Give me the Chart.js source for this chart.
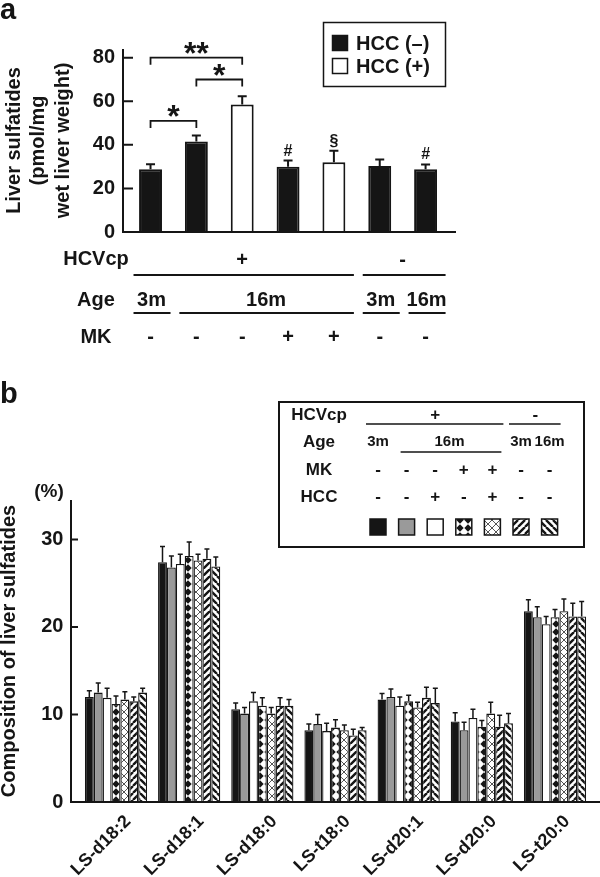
<!DOCTYPE html>
<html>
<head>
<meta charset="utf-8">
<script src="https://cdn.jsdelivr.net/npm/chart.js@4.4.1/dist/chart.umd.min.js"></script>
<style>
  body { margin: 0; background: #fff; }
  #wrap { position: relative; width: 600px; height: 877px; }
  canvas { position: absolute; left: 0; }
  #chartA { top: 0; }
  #chartB { top: 380px; }
</style>
</head>
<body>
<div id="wrap">
  <canvas id="chartA" width="600" height="380"></canvas>
  <canvas id="chartB" width="600" height="497"></canvas>
</div>
<script>
// ---- shared group conditions (same 7 groups in both panels) ----
const hcvSpans = [['+', 0, 4], ['-', 5, 6]];
const ageSpans = [['3m', 0, 0], ['16m', 1, 4], ['3m', 5, 5], ['16m', 6, 6]];
const mkRow = ['-', '-', '-', '+', '+', '-', '-'];
const hccRow = ['-', '-', '+', '-', '+', '-', '-'];

// ---- panel a: liver sulfatides (pmol/mg wet liver weight) ----
const groupsA = ['HCVcp+ 3m', 'HCVcp+ 16m', 'HCVcp+ 16m HCC', 'HCVcp+ 16m MK', 'HCVcp+ 16m MK HCC', 'HCVcp- 3m', 'HCVcp- 16m'];
const sulfatidesA = [28.8, 41.5, 58.5, 30.0, 32.0, 30.3, 28.8];
const errorsA = [2.3, 2.8, 3.8, 2.8, 5.3, 3.0, 2.2];
const marksA = ['', '', '', '#', '\u00a7', '', '#'];
const ticksA = [0, 20, 40, 60, 80];
const legendA = ['HCC (\u2013)', 'HCC (+)'];

// ---- panel b: composition of liver sulfatides (%) ----
const speciesB = ['LS-d18:2', 'LS-d18:1', 'LS-d18:0', 'LS-t18:0', 'LS-d20:1', 'LS-d20:0', 'LS-t20:0'];
const comp3m       = [12.0, 27.4, 10.6, 8.2, 11.7, 9.2, 21.8];
const comp16m      = [12.5, 26.8, 10.1, 8.9, 12.0, 8.2, 21.1];
const comp16mHcc   = [11.9, 27.2, 11.5, 8.1, 11.0, 9.6, 20.3];
const comp16mMk    = [11.2, 28.1, 11.0, 8.5, 11.5, 8.6, 21.1];
const comp16mMkHcc = [11.7, 27.6, 10.1, 8.2, 10.8, 10.1, 21.8];
const compNeg3m    = [11.5, 27.8, 11.0, 7.6, 11.9, 8.6, 21.2];
const compNeg16m   = [12.5, 26.9, 11.0, 8.2, 11.3, 9.0, 21.2];
const err3m       = [0.7, 1.8, 0.7, 0.7, 0.7, 1.0, 1.3];
const err16m      = [1.1, 1.3, 0.7, 1.1, 0.9, 0.9, 1.2];
const err16mHcc   = [1.1, 1.1, 1.0, 0.9, 1.0, 1.0, 0.9];
const err16mMk    = [0.9, 1.6, 0.9, 0.9, 0.7, 0.7, 0.9];
const err16mMkHcc = [0.9, 0.7, 0.7, 0.6, 0.6, 1.3, 1.4];
const errNeg3m    = [0.5, 1.1, 0.9, 0.7, 1.2, 1.3, 1.5];
const errNeg16m   = [0.5, 1.1, 0.7, 0.3, 1.7, 1.1, 1.7];
const ticksB = [0, 10, 20, 30];

const seriesB = [comp3m, comp16m, comp16mHcc, comp16mMk, comp16mMkHcc, compNeg3m, compNeg16m];
const errorsB = [err3m, err16m, err16mHcc, err16mMk, err16mMkHcc, errNeg3m, errNeg16m];

const ink = '#151515';
const FONT = '"Liberation Sans", Arial, sans-serif';
Chart.defaults.font.family = FONT;
Chart.defaults.font.weight = 'bold';
Chart.defaults.color = ink;

// fill patterns for panel b
function tile(size, draw) {
    const c = document.createElement('canvas');
    c.width = c.height = size;
    const g = c.getContext('2d');
    g.fillStyle = '#fff';
    g.fillRect(0, 0, size, size);
    draw(g, size);
    return g.createPattern(c, 'repeat');
}
const diamonds = tile(8, (g, s) => {
    g.fillStyle = ink;
    g.beginPath();
    g.moveTo(s / 2, 0.3); g.lineTo(s - 0.3, s / 2); g.lineTo(s / 2, s - 0.3); g.lineTo(0.3, s / 2);
    g.closePath();
    g.fill();
});
const crossHatch = tile(8, (g, s) => {
    g.strokeStyle = '#555';
    g.lineWidth = 1;
    g.beginPath();
    g.moveTo(0, 0); g.lineTo(s, s);
    g.moveTo(s, 0); g.lineTo(0, s);
    g.stroke();
});
function stripes(dir) {
    return tile(7, (g, s) => {
        g.strokeStyle = ink;
        g.lineWidth = 2.4;
        g.beginPath();
        for (let k = -1; k <= 1; k++) {
            if (dir > 0) { g.moveTo(k * s, s); g.lineTo(k * s + s, 0); }
            else { g.moveTo(k * s, 0); g.lineTo(k * s + s, s); }
        }
        g.stroke();
    });
}
const fillsB = [ink, '#9a9a9a', '#fff', diamonds, crossHatch, stripes(1), stripes(-1)];

// y axis drawn a bit left of the bars, with inward ticks, plus the baseline
const axisFrame = {
    id: 'axisFrame',
    afterDraw(chart, args, opts) {
        const {ctx, chartArea: ca, scales: {y}} = chart;
        const x0 = ca.left - opts.gap;
        ctx.save();
        ctx.strokeStyle = ink;
        ctx.lineWidth = opts.lineWidth;
        ctx.beginPath();
        ctx.moveTo(x0, ca.top);
        ctx.lineTo(x0, ca.bottom);
        ctx.lineTo(ca.right + opts.extendRight, ca.bottom);
        y.ticks.forEach(t => {
            if (t.value === 0) return;
            const py = y.getPixelForValue(t.value);
            ctx.moveTo(x0, py);
            ctx.lineTo(x0 + opts.tickLen, py);
        });
        ctx.stroke();
        ctx.restore();
    }
};

// upper error bars only
const errorBars = {
    id: 'errorBars',
    afterDatasetsDraw(chart, args, opts) {
        const {ctx, scales: {y}} = chart;
        ctx.save();
        ctx.strokeStyle = ink;
        ctx.lineWidth = opts.lineWidth;
        chart.data.datasets.forEach((ds, i) => {
            chart.getDatasetMeta(i).data.forEach((bar, j) => {
                const top = y.getPixelForValue(ds.data[j]);
                const end = y.getPixelForValue(ds.data[j] + opts.errors[i][j]);
                ctx.beginPath();
                ctx.moveTo(bar.x, top);
                ctx.lineTo(bar.x, end);
                ctx.moveTo(bar.x - opts.cap / 2, end);
                ctx.lineTo(bar.x + opts.cap / 2, end);
                ctx.stroke();
            });
        });
        ctx.restore();
    }
};

function hline(ctx, x1, x2, y) {
    ctx.beginPath();
    ctx.moveTo(x1, y);
    ctx.lineTo(x2, y);
    ctx.stroke();
}

const bracketsA = [
    {from: 0, to: 2, level: 80, text: '**'},
    {from: 1, to: 2, level: 70, text: '*'},
    {from: 0, to: 1, level: 51, text: '*'}
];

const panelAExtras = {
    id: 'panelAExtras',
    afterDraw(chart) {
        const {ctx, chartArea: ca, scales: {x, y}} = chart;
        const cx = i => x.getPixelForValue(i);
        ctx.save();
        ctx.fillStyle = ink;
        ctx.strokeStyle = ink;
        ctx.font = 'bold 29px ' + FONT;
        ctx.fillText('a', 0, 19);

        // legend box
        ctx.lineWidth = 1.5;
        ctx.strokeRect(323.5, 22.5, 122, 64);
        ctx.font = 'bold 20px ' + FONT;
        ctx.textBaseline = 'middle';
        legendA.forEach((label, k) => {
            const top = 35 + k * 23;
            ctx.fillStyle = k === 0 ? ink : '#fff';
            ctx.fillRect(332, top, 16, 16);
            ctx.strokeRect(332.5, top + 0.5, 15, 15);
            ctx.fillStyle = ink;
            ctx.fillText(label, 356, top + 9);
        });

        // significance brackets
        ctx.lineWidth = 1.8;
        ctx.textAlign = 'center';
        ctx.textBaseline = 'alphabetic';
        bracketsA.forEach(b => {
            const yy = y.getPixelForValue(b.level);
            const x1 = cx(b.from), x2 = cx(b.to);
            ctx.beginPath();
            ctx.moveTo(x1, yy + 7);
            ctx.lineTo(x1, yy);
            ctx.lineTo(x2, yy);
            ctx.lineTo(x2, yy + 7);
            ctx.stroke();
            ctx.font = 'bold 32px ' + FONT;
            ctx.fillText(b.text, (x1 + x2) / 2, yy + 6);
        });

        // # and § over bars
        ctx.font = 'bold 16px ' + FONT;
        marksA.forEach((m, i) => {
            if (!m) return;
            const top = y.getPixelForValue(sulfatidesA[i] + errorsA[i]);
            ctx.fillText(m, cx(i), top - 5);
        });

        // condition rows under the axis
        const base = ca.bottom;
        ctx.lineWidth = 2;
        ctx.font = 'bold 20px ' + FONT;
        ctx.textBaseline = 'middle';
        ctx.fillText('HCVcp', 96, base + 27);
        ctx.fillText('Age', 96, base + 68);
        ctx.fillText('MK', 96, base + 105);
        hcvSpans.forEach(([label, from, to]) => {
            ctx.fillText(label, (cx(from) + cx(to)) / 2, base + 28);
            hline(ctx, cx(from) - 17, cx(to) + 20, base + 43);
        });
        ageSpans.forEach(([label, from, to]) => {
            ctx.fillText(label, (cx(from) + cx(to)) / 2 + 1, base + 68);
            hline(ctx, cx(from) - 17, cx(to) + 20, base + 81);
        });
        mkRow.forEach((s, i) => ctx.fillText(s, cx(i), base + 105));
        ctx.restore();
    }
};

const panelBExtras = {
    id: 'panelBExtras',
    afterDraw(chart) {
        const {ctx, chartArea: ca} = chart;
        ctx.save();
        ctx.fillStyle = ink;
        ctx.strokeStyle = ink;
        ctx.font = 'bold 29px ' + FONT;
        ctx.fillText('b', 0, 23);
        ctx.font = 'bold 19px ' + FONT;
        ctx.textAlign = 'center';
        ctx.textBaseline = 'middle';
        ctx.fillText('(%)', 49, ca.top - 8);

        // condition table / legend
        const col = k => 378 + k * 28.6;
        ctx.lineWidth = 2;
        ctx.strokeRect(279, 22, 305, 145);
        ctx.font = 'bold 17px ' + FONT;
        ctx.fillText('HCVcp', 319, 35);
        ctx.fillText('Age', 319, 62);
        ctx.fillText('MK', 319, 90);
        ctx.fillText('HCC', 319, 117);
        ctx.lineWidth = 1.5;
        hcvSpans.forEach(([label, from, to]) => {
            ctx.fillText(label, (col(from) + col(to)) / 2, 35);
            hline(ctx, col(from) - 12, col(to) + 11, 44);
        });
        ctx.font = 'bold 15px ' + FONT;
        ageSpans.forEach(([label, from, to]) => {
            ctx.fillText(label, (col(from) + col(to)) / 2, 62);
            if (to > from) hline(ctx, col(from) - 6, col(to) + 9, 72);
        });
        ctx.font = 'bold 17px ' + FONT;
        mkRow.forEach((s, i) => ctx.fillText(s, col(i), 90));
        hccRow.forEach((s, i) => ctx.fillText(s, col(i), 117));
        chart.data.datasets.forEach((ds, i) => {
            ctx.fillStyle = ds.backgroundColor;
            ctx.fillRect(col(i) - 8, 139, 16, 16);
            ctx.strokeRect(col(i) - 8, 139, 16, 16);
        });
        ctx.restore();
    }
};

new Chart(document.getElementById('chartA'), {
    type: 'bar',
    data: {
        labels: groupsA,
        datasets: [{
            data: sulfatidesA,
            backgroundColor: hccRow.map(h => h === '+' ? '#fff' : ink),
            borderColor: ink,
            borderWidth: 2,
            categoryPercentage: 0.5,
            barPercentage: 1.0
        }]
    },
    options: {
        responsive: false,
        animation: false,
        devicePixelRatio: 1,
        events: [],
        layout: { padding: { left: 0, right: 151.5, top: 49, bottom: 148 } },
        plugins: {
            legend: { display: false },
            tooltip: { enabled: false },
            errorBars: { errors: [errorsA], cap: 9, lineWidth: 2 },
            axisFrame: { gap: 4.6, extendRight: 7.5, tickLen: 10, lineWidth: 2 }
        },
        scales: {
            x: { display: false },
            y: {
                min: 0, max: 84,
                grid: { display: false, drawTicks: false },
                border: { display: false },
                afterBuildTicks: s => { s.ticks = ticksA.map(v => ({ value: v })); },
                ticks: { padding: 12.6, font: { size: 20 } },
                title: {
                    display: true,
                    text: ['Liver sulfatides', '(pmol/mg', 'wet liver weight)'],
                    font: { size: 20, lineHeight: 1.22 },
                    padding: { top: 2, bottom: 0 }
                },
                afterFit: s => { s.width = 127.6; }
            }
        }
    },
    plugins: [errorBars, axisFrame, panelAExtras]
});

new Chart(document.getElementById('chartB'), {
    type: 'bar',
    data: {
        labels: speciesB,
        datasets: seriesB.map((vals, i) => ({
            label: groupsA[i],
            data: vals,
            backgroundColor: fillsB[i],
            borderColor: ink,
            borderWidth: 1.3,
            categoryPercentage: 0.85,
            barPercentage: 1.0
        }))
    },
    options: {
        responsive: false,
        animation: false,
        devicePixelRatio: 1,
        events: [],
        layout: { padding: { left: 0, right: 8.4, top: 120, bottom: 0 } },
        plugins: {
            legend: { display: false },
            tooltip: { enabled: false },
            errorBars: { errors: errorsB, cap: 5, lineWidth: 1.5 },
            axisFrame: { gap: 8.4, extendRight: 8.4, tickLen: 7, lineWidth: 2 }
        },
        scales: {
            x: {
                grid: { display: false, drawTicks: false },
                border: { display: false },
                ticks: { minRotation: 45, maxRotation: 45, padding: 9, labelOffset: 12, font: { size: 18 } },
                afterFit: s => { s.height = 75; }
            },
            y: {
                min: 0, max: 34.5,
                grid: { display: false, drawTicks: false },
                border: { display: false },
                afterBuildTicks: s => { s.ticks = ticksB.map(v => ({ value: v })); },
                ticks: { padding: 16, font: { size: 20 } },
                title: {
                    display: true,
                    text: 'Composition of liver sulfatides',
                    font: { size: 20, lineHeight: 0.9 },
                    padding: 0
                },
                afterFit: s => { s.width = 79.4; }
            }
        }
    },
    plugins: [errorBars, axisFrame, panelBExtras]
});
</script>
</body>
</html>
